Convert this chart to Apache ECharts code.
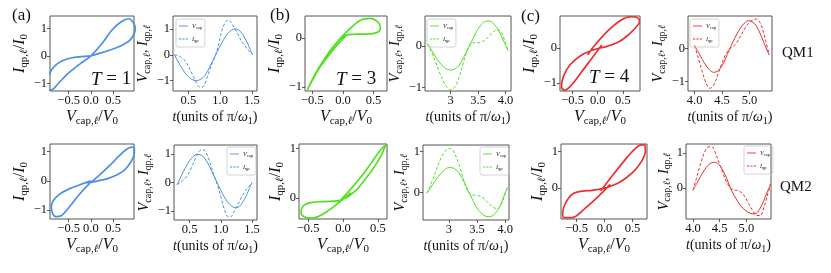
<!DOCTYPE html>
<html><head><meta charset="utf-8">
<script src="https://cdn.jsdelivr.net/npm/echarts@6/dist/echarts.min.js"></script>
<style>html,body{margin:0;padding:0;background:#fff}#c{width:831px;height:273px}</style>
</head><body><div id="c"></div>
<script>
// ---------- data ----------
// Panel (a), QM1 (T = 1)
const tA1 = [0.28,0.33,0.38,0.43,0.48,0.53,0.58,0.63,0.68,0.73,0.78,0.83,0.88,0.93,0.98,1.03,1.08,1.13,1.18,1.23,1.28,1.33,1.38,1.43,1.48,1.51];
const vA1 = [0,-0.23,-0.45,-0.64,-0.80,-0.91,-0.98,-1.0,-0.96,-0.88,-0.72,-0.50,-0.25,0,0.25,0.48,0.69,0.85,0.95,1.0,0.97,0.87,0.69,0.45,0.17,0];
const iA1 = [0,-0.03,-0.08,-0.18,-0.35,-0.58,-0.85,-1.10,-1.25,-1.24,-0.98,-0.62,-0.30,0,0.45,0.95,1.25,1.35,1.22,1.00,0.80,0.55,0.38,0.22,0.08,0];
// Panel (a), QM2
const tA2 = [0.30,0.35,0.40,0.45,0.50,0.55,0.60,0.65,0.70,0.75,0.80,0.85,0.90,0.95,1.00,1.05,1.10,1.15,1.20,1.25,1.30,1.35,1.40,1.45,1.50];
const vA2 = [-0.08,0.15,0.38,0.58,0.76,0.89,0.97,0.98,0.93,0.82,0.64,0.42,0.18,-0.05,-0.28,-0.49,-0.66,-0.79,-0.87,-0.89,-0.84,-0.70,-0.50,-0.26,0.0];
const iA2 = [-0.08,0.0,0.08,0.20,0.38,0.62,0.88,1.08,1.15,1.10,0.86,0.52,0.18,-0.12,-0.50,-0.90,-1.18,-1.22,-1.08,-0.88,-0.66,-0.45,-0.28,-0.14,0.0];
// Panel (b), QM1 (T = 3)
const tB1 = [2.58,2.65,2.72,2.79,2.86,2.93,3.00,3.07,3.14,3.21,3.28,3.35,3.42,3.49,3.56,3.63,3.70,3.77,3.84,3.91,3.98,4.05];
const vB1 = [0.05,-0.10,-0.25,-0.39,-0.49,-0.56,-0.58,-0.56,-0.48,-0.34,-0.16,0.02,0.22,0.40,0.52,0.60,0.61,0.56,0.45,0.28,0.08,-0.12];
const iB1 = [0.05,-0.15,-0.38,-0.62,-0.84,-1.00,-1.06,-1.00,-0.80,-0.50,-0.18,0.04,0.08,0.08,0.10,0.15,0.24,0.34,0.40,0.36,0.15,-0.12];
// Panel (b), QM2
const tB2 = [2.61,2.68,2.75,2.82,2.89,2.96,3.03,3.10,3.17,3.24,3.31,3.38,3.45,3.52,3.59,3.66,3.73,3.80,3.87,3.94,4.01,4.04];
const vB2 = [-0.02,0.12,0.27,0.40,0.51,0.59,0.61,0.58,0.49,0.34,0.14,-0.06,-0.26,-0.42,-0.53,-0.59,-0.60,-0.55,-0.44,-0.24,0.02,0.11];
const iB2 = [-0.02,0.20,0.45,0.70,0.92,1.05,1.07,0.96,0.72,0.42,0.10,-0.05,-0.07,-0.08,-0.12,-0.20,-0.30,-0.38,-0.40,-0.28,0.0,0.11];
// Panel (c), QM1 (T = 4)
const tC1 = [4.00,4.07,4.14,4.21,4.28,4.35,4.42,4.49,4.56,4.63,4.70,4.77,4.84,4.91,4.98,5.05,5.12,5.19,5.26,5.33,5.36];
const vC1 = [0.08,-0.12,-0.33,-0.52,-0.66,-0.72,-0.68,-0.55,-0.32,-0.05,0.20,0.43,0.62,0.76,0.83,0.80,0.68,0.46,0.18,-0.10,-0.20];
const iC1 = [0.08,-0.30,-0.70,-1.05,-1.20,-1.10,-0.80,-0.48,-0.20,-0.04,0.05,0.18,0.38,0.58,0.74,0.84,0.88,0.78,0.45,0.0,-0.20];
// Panel (c), QM2
const tC2 = [4.00,4.07,4.14,4.21,4.28,4.35,4.42,4.49,4.56,4.63,4.70,4.77,4.84,4.91,4.98,5.05,5.12,5.19,5.26,5.33,5.40,5.45];
const vC2 = [-0.07,0.12,0.32,0.50,0.64,0.72,0.73,0.66,0.50,0.27,0.0,-0.22,-0.40,-0.55,-0.65,-0.72,-0.75,-0.73,-0.58,-0.35,-0.08,0.10];
const iC2 = [-0.07,0.30,0.68,1.00,1.17,1.18,1.00,0.72,0.42,0.16,0.0,-0.06,-0.08,-0.14,-0.28,-0.48,-0.66,-0.80,-0.80,-0.55,-0.18,0.10];

// tick values and their labels
const hystXTicks = [-0.5, 0, 0.5];      const hystXLabels = ['\u22120.5', '0.0', '0.5'];
const yTicks3 = [-1, 0, 1];             const yLabels3 = ['\u22121', '0', '1'];
const yTicksNeg = [-1, 0];              const yLabelsNeg = ['\u22121', '0'];
const yTicksPos = [0, 1];               const yLabelsPos = ['0', '1'];
const tTicksA = [0.5, 1.0, 1.5];        const tLabelsA = ['0.5', '1.0', '1.5'];
const tTicksB = [3, 3.5, 4];            const tLabelsB = ['3', '3.5', '4.0'];
const tTicksC = [4, 4.5, 5];            const tLabelsC = ['4.0', '4.5', '5.0'];

const BLUE = '#4a8fe8', GREEN = '#52e021', RED = '#ec2f2f';

// ---------- layout / style ----------
const SERIF = "'Liberation Serif','DejaVu Serif',serif";
function rich(fs, sub) {
  return {
    i: {fontFamily: SERIF, fontStyle: 'italic', fontSize: fs, color: '#111', lineHeight: fs + 4},
    r: {fontFamily: SERIF, fontSize: fs, color: '#111', lineHeight: fs + 4},
    s: {fontFamily: SERIF, fontSize: sub, color: '#111', lineHeight: sub - 1, verticalAlign: 'bottom'},
    si: {fontFamily: SERIF, fontStyle: 'italic', fontSize: sub, color: '#111', lineHeight: sub - 1, verticalAlign: 'bottom'}
  };
}
const R16 = rich(16, 11), R14 = rich(14, 10);
const NAME_HX = '{i|V}{s|cap,}{si|\u2113}{r|/}{i|V}{s|0}';
const NAME_HY = '{i|I}{s|qp,}{si|\u2113}{r|/}{i|I}{s|0}';
const NAME_TY = '{i|V}{s|cap,}{si|\u2113}{r|, }{i|I}{s|qp,}{si|\u2113}';
const NAME_TX = '{i|t}{r|(units of \u03c0/}{i|\u03c9}{s|1}{r|)}';

function lab(ticks, labels) {
  return v => { for (let k = 0; k < ticks.length; k++) if (Math.abs(ticks[k] - v) < 1e-6) return labels[k]; return ''; };
}
function axis(gi, min, max, ticks, labels, name, gap, rt) {
  return {
    type: 'value', gridIndex: gi, min: min, max: max,
    axisLine: {show: false, onZero: false}, splitLine: {show: false},
    axisTick: {show: true, customValues: ticks, length: 3, lineStyle: {color: '#333', width: 0.8}},
    axisLabel: {show: true, customValues: ticks, formatter: lab(ticks, labels), fontFamily: SERIF, fontSize: 12.5, color: '#111', margin: 3},
    name: name, nameLocation: 'middle', nameGap: gap, nameTextStyle: {rich: rt}
  };
}

const grids = [
  {left: 50, top: 16, width: 84, height: 75},
  {left: 173, top: 16, width: 84, height: 75},
  {left: 305, top: 16, width: 82, height: 75},
  {left: 425, top: 16, width: 86, height: 75},
  {left: 560, top: 16, width: 80, height: 75},
  {left: 688, top: 16, width: 84, height: 75},
  {left: 50, top: 144, width: 84, height: 75},
  {left: 174, top: 145, width: 83, height: 75},
  {left: 299, top: 144, width: 88, height: 75},
  {left: 423, top: 145, width: 86, height: 75},
  {left: 561, top: 144, width: 86, height: 75},
  {left: 686, top: 144, width: 85, height: 75}
].map(g => Object.assign(g, {show: true, borderColor: '#555', borderWidth: 1, backgroundColor: 'transparent'}));

const xAxes = [
  axis(0, -0.92, 0.97, hystXTicks, hystXLabels, NAME_HX, 16, R16),
  axis(1, 0.258, 1.58, tTicksA, tLabelsA, NAME_TX, 17, R14),
  axis(2, -0.62, 0.72, hystXTicks, hystXLabels, NAME_HX, 16, R16),
  axis(3, 2.53, 4.1, tTicksB, tLabelsB, NAME_TX, 17, R14),
  axis(4, -0.75, 0.84, hystXTicks, hystXLabels, NAME_HX, 16, R16),
  axis(5, 3.88, 5.41, tTicksC, tLabelsC, NAME_TX, 17, R14),
  axis(6, -0.92, 0.97, hystXTicks, hystXLabels, NAME_HX, 16, R16),
  axis(7, 0.25, 1.58, tTicksA, tLabelsA, NAME_TX, 17, R14),
  axis(8, -0.63, 0.63, hystXTicks, hystXLabels, NAME_HX, 16, R16),
  axis(9, 2.54, 4.07, tTicksB, tLabelsB, NAME_TX, 17, R14),
  axis(10, -0.78, 0.76, hystXTicks, hystXLabels, NAME_HX, 16, R16),
  axis(11, 3.87, 5.46, tTicksC, tLabelsC, NAME_TX, 17, R14)
];
const yAxes = [
  axis(0, -1.28, 1.45, yTicks3, yLabels3, NAME_HY, 13, R16),
  axis(1, -1.40, 1.50, yTicks3, yLabels3, NAME_TY, 13, R14),
  axis(2, -1.08, 0.45, yTicksNeg, yLabelsNeg, NAME_HY, 14, R16),
  axis(3, -1.09, 0.73, yTicksNeg, yLabelsNeg, NAME_TY, 14, R14),
  axis(4, -1.22, 0.90, yTicksNeg, yLabelsNeg, NAME_HY, 11, R16),
  axis(5, -1.28, 0.97, yTicksNeg, yLabelsNeg, NAME_TY, 16, R14),
  axis(6, -1.30, 1.26, yTicks3, yLabels3, NAME_HY, 13, R16),
  axis(7, -1.32, 1.31, yTicks3, yLabels3, NAME_TY, 16, R14),
  axis(8, -0.42, 1.09, yTicksPos, yLabelsPos, NAME_HY, 10, R16),
  axis(9, -0.68, 1.16, yTicksPos, yLabelsPos, NAME_TY, 14, R14),
  axis(10, -0.84, 1.20, yTicksPos, yLabelsPos, NAME_HY, 13, R16),
  axis(11, -0.90, 1.26, yTicksPos, yLabelsPos, NAME_TY, 13, R14)
];

const panels = [
  {key: 'A1', t: tA1, v: vA1, i: iA1, c: BLUE, h: 0, tm: 1},
  {key: 'B1', t: tB1, v: vB1, i: iB1, c: GREEN, h: 2, tm: 3},
  {key: 'C1', t: tC1, v: vC1, i: iC1, c: RED, h: 4, tm: 5},
  {key: 'A2', t: tA2, v: vA2, i: iA2, c: BLUE, h: 6, tm: 7},
  {key: 'B2', t: tB2, v: vB2, i: iB2, c: GREEN, h: 8, tm: 9},
  {key: 'C2', t: tC2, v: vC2, i: iC2, c: RED, h: 10, tm: 11}
];
const series = [];
panels.forEach(p => {
  series.push({type: 'line', name: 'H_' + p.key, xAxisIndex: p.h, yAxisIndex: p.h,
    data: p.v.map((x, k) => [x, p.i[k]]), symbol: 'none', smooth: 0.35, clip: true, silent: true,
    lineStyle: {color: p.c, width: 1.7}});
  series.push({type: 'line', name: 'V_' + p.key, xAxisIndex: p.tm, yAxisIndex: p.tm,
    data: p.t.map((x, k) => [x, p.v[k]]), symbol: 'none', smooth: 0.35, clip: true, silent: true,
    itemStyle: {color: p.c}, lineStyle: {color: p.c, width: 1}});
  series.push({type: 'line', name: 'I_' + p.key, xAxisIndex: p.tm, yAxisIndex: p.tm,
    data: p.t.map((x, k) => [x, p.i[k]]), symbol: 'none', smooth: 0.35, clip: true, silent: true,
    itemStyle: {color: p.c}, lineStyle: {color: p.c, width: 1, type: [3, 2]}});
});

const LEGRICH = {
  i: {fontFamily: SERIF, fontStyle: 'italic', fontSize: 6, color: '#222', lineHeight: 8},
  s: {fontFamily: SERIF, fontSize: 4.5, color: '#222', lineHeight: 4, verticalAlign: 'bottom'}
};
const ICON_SOLID = 'path://M0 0H12V1.2H0Z';
const ICON_DASH = 'path://M0 0H3V1.2H0Z M4.5 0H7.5V1.2H4.5Z M9 0H12V1.2H9Z';
const legPos = {A1: [176, 19], B1: [427, 19], C1: [690, 19], A2: [227, 147], B2: [480, 147], C2: [744, 146]};
const legends = panels.map(p => ({
  data: [{name: 'V_' + p.key, icon: ICON_SOLID}, {name: 'I_' + p.key, icon: ICON_DASH}],
  left: legPos[p.key][0], top: legPos[p.key][1],
  orient: 'vertical', itemWidth: 9, itemHeight: 1.2, itemGap: 6, padding: [4, 3, 4, 3],
  borderColor: '#c8c8c8', borderWidth: 0.8, borderRadius: 2, selectedMode: false,
  textStyle: {rich: LEGRICH, padding: [0, 0, 0, -1]},
  formatter: n => n.charAt(0) === 'V' ? '{i|V}{s|cap}' : '{i|I}{s|qp}'
}));

const TR = {
  i: {fontFamily: SERIF, fontStyle: 'italic', fontSize: 19, fill: '#111'},
  r: {fontFamily: SERIF, fontSize: 19, fill: '#111'}
};
function txt(x, y, s, fs) {
  return {type: 'text', left: x, top: y, silent: true,
    style: {text: s, fontFamily: SERIF, fontSize: fs, fill: '#111'}};
}
function rtxt(x, y, s) {
  return {type: 'text', left: x, top: y, silent: true, style: {text: s, rich: TR}};
}
const graphics = [
  txt(12, 7, '(a)', 17), txt(270, 7, '(b)', 17), txt(521, 8, '(c)', 17),
  rtxt(91, 70, '{i|T}{r| = 1}'), rtxt(336, 70, '{i|T}{r| = 3}'), rtxt(589, 68, '{i|T}{r| = 4}'),
  txt(782, 46, 'QM1', 15), txt(780, 180, 'QM2', 15)
];

const chart = echarts.init(document.getElementById('c'), null, {renderer: 'canvas'});
chart.setOption({
  animation: false, backgroundColor: '#fff',
  grid: grids, xAxis: xAxes, yAxis: yAxes, series: series, legend: legends, graphic: graphics
});
</script></body></html>
